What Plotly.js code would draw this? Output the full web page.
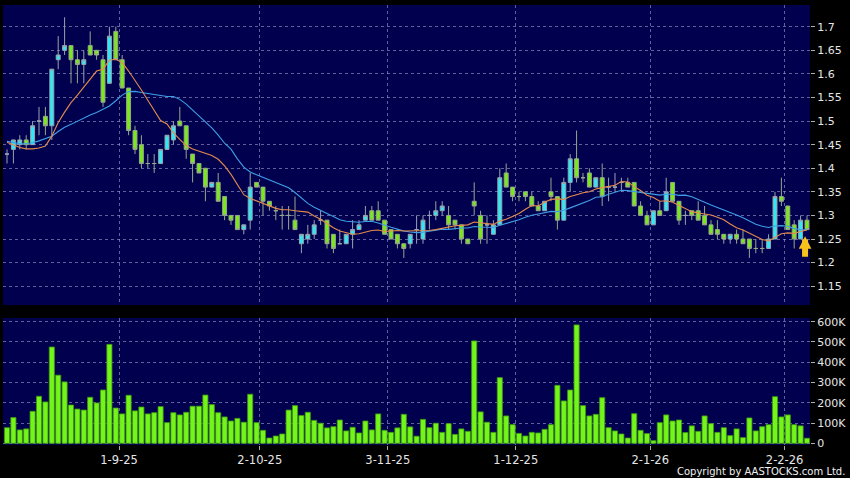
<!DOCTYPE html>
<html>
<head>
<meta charset="utf-8">
<script src="https://cdn.plot.ly/plotly-3.0.1.min.js"></script>
<style>
html,body{margin:0;padding:0;background:#000;}
#chart{width:850px;height:478px;}
</style>
</head>
<body>
<div id="chart"></div>
<script>
// Daily OHLC (HKD), 126 trading sessions from early Aug 2025 to early Feb 2026
const openP = [1.43,1.44,1.45,1.46,1.45,1.50,1.51,1.49,1.63,1.65,
1.66,1.63,1.62,1.66,1.65,1.63,1.58,1.69,1.63,1.57,
1.48,1.45,1.41,1.41,1.41,1.44,1.46,1.50,1.49,1.43,
1.41,1.40,1.36,1.37,1.34,1.30,1.30,1.27,1.29,1.37,
1.36,1.33,1.31,1.30,1.30,1.29,1.24,1.25,1.26,1.29,
1.29,1.26,1.24,1.24,1.26,1.27,1.29,1.31,1.31,1.29,
1.27,1.26,1.24,1.24,1.27,1.25,1.30,1.30,1.31,1.30,
1.29,1.28,1.25,1.33,1.30,1.28,1.26,1.28,1.39,1.36,
1.34,1.35,1.34,1.32,1.31,1.35,1.34,1.29,1.37,1.42,
1.38,1.39,1.36,1.38,1.36,1.36,1.37,1.37,1.37,1.32,
1.30,1.28,1.31,1.31,1.37,1.33,1.30,1.31,1.31,1.30,
1.28,1.27,1.26,1.25,1.26,1.25,1.25,1.23,1.23,1.23,
1.25,1.34,1.32,1.28,1.25,1.29];
const highP = [1.44,1.46,1.47,1.47,1.50,1.53,1.53,1.61,1.68,1.72,
1.66,1.65,1.65,1.69,1.65,1.64,1.70,1.70,1.64,1.57,
1.49,1.47,1.43,1.43,1.44,1.47,1.50,1.53,1.49,1.43,
1.41,1.40,1.37,1.39,1.34,1.30,1.30,1.28,1.39,1.37,
1.36,1.33,1.32,1.32,1.32,1.34,1.26,1.28,1.29,1.31,
1.29,1.26,1.27,1.26,1.29,1.29,1.32,1.32,1.33,1.29,
1.27,1.26,1.24,1.26,1.30,1.30,1.31,1.33,1.33,1.32,
1.29,1.28,1.25,1.37,1.31,1.30,1.29,1.40,1.41,1.36,
1.35,1.35,1.35,1.33,1.33,1.38,1.34,1.38,1.43,1.48,
1.39,1.40,1.38,1.41,1.38,1.39,1.38,1.38,1.37,1.33,
1.31,1.31,1.33,1.38,1.37,1.33,1.31,1.31,1.33,1.32,
1.29,1.29,1.26,1.26,1.27,1.27,1.25,1.25,1.25,1.26,
1.35,1.38,1.32,1.29,1.30,1.30];
const lowP = [1.41,1.41,1.44,1.44,1.45,1.47,1.47,1.46,1.61,1.64,
1.58,1.58,1.58,1.64,1.63,1.53,1.58,1.63,1.57,1.47,
1.43,1.40,1.40,1.39,1.41,1.44,1.45,1.49,1.42,1.37,
1.39,1.33,1.36,1.33,1.29,1.28,1.27,1.26,1.27,1.36,
1.30,1.31,1.29,1.27,1.27,1.27,1.22,1.24,1.25,1.28,
1.23,1.22,1.24,1.24,1.23,1.27,1.29,1.29,1.29,1.26,
1.25,1.23,1.21,1.23,1.24,1.24,1.27,1.29,1.30,1.27,
1.27,1.24,1.24,1.30,1.24,1.24,1.26,1.28,1.36,1.33,
1.33,1.33,1.32,1.31,1.31,1.33,1.27,1.29,1.35,1.37,
1.37,1.36,1.36,1.32,1.33,1.35,1.35,1.36,1.32,1.30,
1.28,1.28,1.30,1.31,1.33,1.28,1.28,1.29,1.29,1.28,
1.26,1.25,1.24,1.24,1.24,1.24,1.21,1.22,1.22,1.23,
1.25,1.32,1.27,1.23,1.25,1.27];
const closeP = [1.43,1.46,1.46,1.45,1.49,1.50,1.49,1.61,1.64,1.66,
1.63,1.62,1.63,1.64,1.64,1.54,1.68,1.63,1.57,1.48,
1.44,1.41,1.41,1.41,1.44,1.47,1.49,1.49,1.44,1.41,
1.39,1.36,1.37,1.33,1.30,1.29,1.27,1.28,1.36,1.36,
1.33,1.32,1.31,1.30,1.30,1.27,1.26,1.26,1.28,1.29,
1.24,1.23,1.24,1.26,1.27,1.28,1.30,1.29,1.29,1.26,
1.25,1.24,1.23,1.26,1.27,1.29,1.30,1.31,1.32,1.28,
1.28,1.25,1.24,1.32,1.25,1.28,1.28,1.38,1.36,1.34,
1.34,1.34,1.32,1.31,1.33,1.34,1.29,1.37,1.42,1.38,
1.38,1.36,1.38,1.34,1.36,1.36,1.37,1.36,1.32,1.30,
1.28,1.31,1.30,1.35,1.33,1.29,1.30,1.30,1.29,1.28,
1.26,1.26,1.25,1.26,1.25,1.24,1.23,1.23,1.23,1.25,
1.34,1.33,1.27,1.25,1.29,1.27];
// Volume in thousands of shares
const volumeK = [77,127,66,71,158,232,204,475,336,303,
189,169,164,227,199,263,488,174,145,237,
160,179,145,151,181,102,151,140,153,183,
183,238,191,151,130,110,123,104,242,102,
64,26,36,46,164,186,137,153,113,99,
76,82,115,61,79,51,110,66,145,64,
54,76,143,81,35,118,77,99,54,97,
44,71,59,505,155,104,54,324,135,92,
49,36,54,51,69,92,286,209,263,584,
186,135,143,225,77,61,46,26,146,64,
48,13,102,140,110,115,53,86,59,135,
97,54,77,38,71,28,125,61,82,92,
230,130,140,92,86,25];
const ma10Lead = [1.455,1.449,1.444,1.441,1.441,1.443,1.447,1.468,1.497];
const ma20Lead = [1.457,1.454,1.452,1.452,1.454,1.458,1.463,1.468,1.478,1.487,
1.493,1.500,1.507,1.513,1.518,1.525,1.532,1.543,1.555];
// x-axis labels (date of first session of each month)
const tickDates = ['1-9-25','2-10-25','3-11-25','1-12-25','2-1-26','2-2-26'];
const tickSessionIdx = [18,40,60,80,101,122];
const priceTicks = [1.15,1.2,1.25,1.3,1.35,1.4,1.45,1.5,1.55,1.6,1.65,1.7];
const volTicks = [0,100,200,300,400,500,600];
const volTickText = ['0','100K','200K','300K','400K','500K','600K'];

const idx = closeP.map((_, i) => i);
function sma(arr, n, lead) {
  return arr.map((_, i) => {
    if (i < n - 1) return lead[i];
    let s = 0;
    for (let k = i - n + 1; k <= i; k++) s += arr[k];
    return s / n;
  });
}
const ma10 = sma(closeP, 10, ma10Lead);
const ma20 = sma(closeP, 20, ma20Lead);
const gridPos = tickSessionIdx.map(v => v - 0.5);

const gridColor = 'rgba(160,160,210,0.6)';
const txtColor = '#e6e6e6';
const fontFam = 'DejaVu Sans, Verdana, sans-serif';

const traces = [
  {
    type: 'candlestick', x: idx, open: openP, high: highP, low: lowP, close: closeP,
    xaxis: 'x', yaxis: 'y',
    increasing: {fillcolor: '#33e6f6', line: {color: '#98a4ac', width: 1}},
    decreasing: {fillcolor: '#7ae81c', line: {color: '#96a88a', width: 1}},
    whiskerwidth: 0, hoverinfo: 'skip', showlegend: false
  },
  {
    type: 'scatter', mode: 'lines', x: idx, y: ma20, xaxis: 'x', yaxis: 'y',
    line: {color: '#3f9fe6', width: 1.1}, hoverinfo: 'skip', showlegend: false
  },
  {
    type: 'scatter', mode: 'lines', x: idx, y: ma10, xaxis: 'x', yaxis: 'y',
    line: {color: '#e48c4c', width: 1.1}, hoverinfo: 'skip', showlegend: false
  },
  {
    type: 'bar', x: idx, y: volumeK, xaxis: 'x2', yaxis: 'y2', width: 0.8,
    marker: {color: '#74f41a', line: {color: '#3e9a10', width: 0.8}},
    hoverinfo: 'skip', showlegend: false
  }
];

const xRange = [-0.625, 125.47];
const layout = {
  width: 850, height: 478,
  paper_bgcolor: '#000000', plot_bgcolor: '#00004e',
  margin: {l: 3, r: 40, t: 5, b: 33},
  boxgap: 0.12,
  showlegend: false,
  font: {family: fontFam, color: txtColor, size: 11},
  xaxis: {
    domain: [0, 1], anchor: 'y', range: xRange, rangeslider: {visible: false},
    tickvals: gridPos, ticktext: tickDates, showticklabels: false, ticks: '',
    showgrid: true, gridcolor: gridColor, griddash: '3px,3px', gridwidth: 1,
    zeroline: false, showline: false, fixedrange: true
  },
  xaxis2: {
    domain: [0, 1], anchor: 'y2', range: xRange, matches: 'x',
    tickvals: gridPos, ticktext: tickDates, showticklabels: true,
    ticks: 'outside', ticklen: 4, tickcolor: '#aaaaaa',
    tickfont: {family: fontFam, size: 11.5, color: txtColor},
    showgrid: true, gridcolor: gridColor, griddash: '3px,3px', gridwidth: 1,
    zeroline: false, showline: false, fixedrange: true
  },
  yaxis: {
    domain: [0.318, 1], anchor: 'x', side: 'right', range: [1.110, 1.746],
    tickvals: priceTicks, ticktext: priceTicks.map(v => String(v)),
    ticks: 'outside', ticklen: 4, tickcolor: '#aaaaaa',
    tickfont: {family: fontFam, size: 11, color: txtColor},
    showgrid: true, gridcolor: gridColor, griddash: '3px,3px', gridwidth: 1,
    zeroline: false, showline: false, fixedrange: true
  },
  yaxis2: {
    domain: [0, 0.2886], anchor: 'x2', side: 'right', range: [-8.4, 618],
    tickvals: volTicks, ticktext: volTickText,
    ticks: 'outside', ticklen: 4, tickcolor: '#aaaaaa',
    tickfont: {family: fontFam, size: 11, color: txtColor},
    showgrid: true, gridcolor: gridColor, griddash: '3px,3px', gridwidth: 1,
    zeroline: false, showline: false, fixedrange: true
  },
  annotations: [
    {
      xref: 'x', yref: 'y', axref: 'x', ayref: 'y',
      x: 124.7, y: 1.256, ax: 124.7, ay: 1.209,
      text: '', showarrow: true, arrowhead: 2, arrowsize: 0.42, arrowwidth: 6,
      arrowcolor: '#f7c21b'
    },
    {
      xref: 'paper', yref: 'paper', x: 1.0459, y: -0.0607,
      xanchor: 'right', yanchor: 'middle', showarrow: false,
      text: 'Copyright by AASTOCKS.com Ltd.',
      font: {family: fontFam, size: 10, color: '#f0f0f0'}
    }
  ]
};

Plotly.newPlot('chart', traces, layout, {displayModeBar: false, staticPlot: true});
</script>
</body>
</html>
